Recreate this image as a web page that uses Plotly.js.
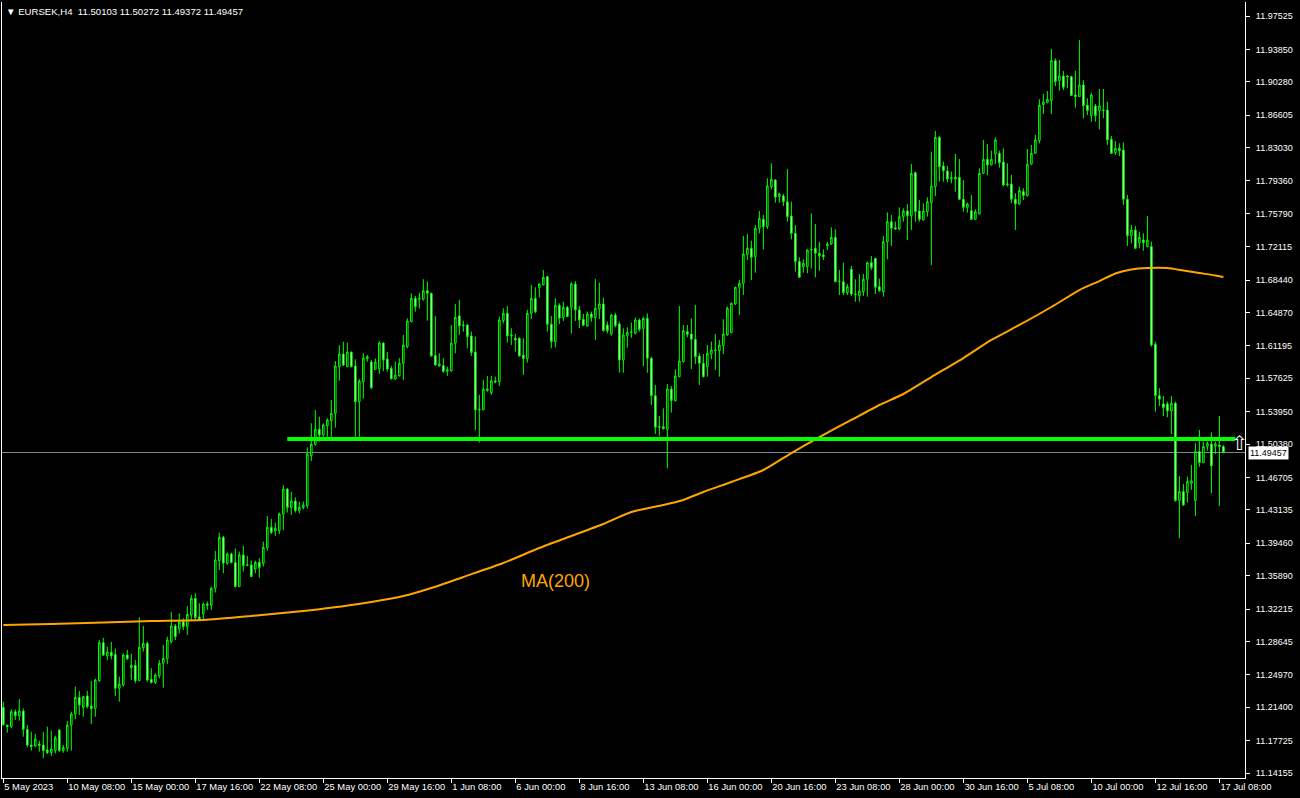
<!DOCTYPE html>
<html><head><meta charset="utf-8">
<script src="https://cdn.plot.ly/plotly-3.0.1.min.js"></script>
<style>html,body{margin:0;padding:0;background:#000;} #chart{width:1300px;height:798px;}</style>
</head><body><div id="chart"></div>
<script>
const symbolTitle = 'EURSEK,H4';
const lastOHLC = [11.50103, 11.50272, 11.49372, 11.49457];

const open = [
11.2139,11.1945,11.1926,11.2091,11.2047,11.2099,11.1897,11.1724,11.1713,11.1735,
11.1724,11.1669,11.1640,11.1662,11.1890,11.1662,11.1688,11.1945,11.2066,11.2249,
11.2139,11.2264,11.2154,11.2128,11.2433,11.2851,11.2705,11.2745,11.2723,11.2349,
11.2385,11.2716,11.2576,11.2602,11.2433,11.2796,11.2844,11.2448,11.2411,11.2488,
11.2624,11.2675,11.2862,11.3035,11.3002,11.3083,11.3028,11.3156,11.3340,11.3134,
11.3167,11.3278,11.3263,11.3451,11.3755,11.4012,11.3726,11.3829,11.3733,11.3469,
11.3818,11.3700,11.3708,11.3663,11.3737,11.3726,11.3898,11.4122,11.4082,11.4086,
11.4265,11.4544,11.4339,11.4412,11.4306,11.4339,11.4357,11.4911,11.5036,11.5201,
11.5139,11.5241,11.5296,11.5377,11.5891,11.6030,11.5891,11.6052,11.5898,11.5505,
11.5726,11.5979,11.5942,11.5861,11.5869,11.6151,11.5975,11.5872,11.5755,11.5792,
11.5928,11.6112,11.6387,11.6644,11.6633,11.6633,11.6728,11.6699,11.6013,11.5899,
11.5903,11.5840,11.5844,11.6149,11.6450,11.6343,11.6350,11.6229,11.6053,11.5415,
11.5415,11.5627,11.5605,11.5734,11.5727,11.6398,11.6479,11.6229,11.6204,11.6204,
11.6016,11.5980,11.6479,11.6644,11.6761,11.6791,11.6882,11.6358,11.6167,11.6567,
11.6431,11.6545,11.6545,11.6802,11.6516,11.6412,11.6339,11.6471,11.6431,11.6527,
11.6582,11.6350,11.6251,11.6460,11.6361,11.5964,11.6232,11.6269,11.6258,11.6405,
11.6313,11.6423,11.5983,11.5572,11.5223,11.5230,11.5201,11.5645,11.5517,11.5781,
11.5946,11.6276,11.6251,11.6192,11.6008,11.5928,11.5892,11.6031,11.6075,11.6068,
11.6123,11.6240,11.6266,11.6581,11.6765,11.6809,11.7128,11.7194,11.7103,11.7415,
11.7514,11.7433,11.7873,11.7947,11.7763,11.7771,11.7708,11.7550,11.7360,11.7048,
11.6992,11.6992,11.7176,11.7194,11.7139,11.7121,11.7223,11.7242,11.7315,11.6827,
11.6827,11.6706,11.6963,11.6691,11.6673,11.6717,11.6853,11.7036,11.7084,11.6772,
11.6717,11.7267,11.7488,11.7422,11.7407,11.7543,11.7605,11.7554,11.8027,11.7605,
11.7506,11.7598,11.7697,11.7873,11.8416,11.8101,11.8045,11.7957,11.7976,11.7976,
11.7734,11.7645,11.7609,11.7513,11.7572,11.8020,11.8174,11.8112,11.8233,11.8240,
11.8145,11.7892,11.7903,11.7735,11.7683,11.7819,11.7775,11.8120,11.8241,11.8381,
11.8777,11.8799,11.8821,11.9261,11.9041,11.9093,11.9093,11.9085,11.8883,11.8865,
11.8993,11.8770,11.8656,11.8762,11.8711,11.8718,11.8718,11.8394,11.8247,11.8295,
11.8277,11.7734,11.7334,11.7396,11.7257,11.7286,11.7213,11.7213,11.6137,11.5572,
11.5480,11.5480,11.5403,11.5488,11.4416,11.4515,11.4504,11.4607,11.4416,11.4956,
11.4834,11.5011,11.5040,11.5018,11.5029,11.50103
];
const high = [
11.2202,11.1945,11.2117,11.2117,11.2231,11.2128,11.1945,11.1871,11.1846,11.1772,
11.1867,11.1926,11.1882,11.1827,11.1897,11.1724,11.1989,11.2091,11.2367,11.2319,
11.2264,11.2319,11.2429,11.2455,11.2880,11.2906,11.2807,11.2859,11.2789,11.2477,
11.2734,11.2771,11.2727,11.2661,11.3130,11.3035,11.2862,11.2569,11.2514,11.2661,
11.2826,11.2917,11.3189,11.3057,11.3174,11.3119,11.3255,11.3376,11.3395,11.3285,
11.3292,11.3304,11.3469,11.3862,11.4064,11.4027,11.3843,11.3843,11.3891,11.3854,
11.3917,11.3807,11.3755,11.3755,11.3781,11.3964,11.4247,11.4214,11.4174,11.4284,
11.4588,11.4552,11.4511,11.4453,11.4405,11.4405,11.5003,11.5267,11.5414,11.5340,
11.5267,11.5322,11.5524,11.5953,11.6129,11.6166,11.6155,11.6056,11.5972,11.5755,
11.6038,11.6019,11.5964,11.5983,11.6173,11.6159,11.6052,11.5898,11.5946,11.5986,
11.6239,11.6424,11.6699,11.6670,11.6706,11.6853,11.6828,11.6706,11.6450,11.6039,
11.5983,11.5892,11.6350,11.6582,11.6626,11.6398,11.6354,11.6277,11.6222,11.5580,
11.5745,11.5789,11.5789,11.5782,11.6442,11.6534,11.6560,11.6314,11.6251,11.6215,
11.6204,11.6516,11.6791,11.6765,11.6806,11.6956,11.6890,11.6449,11.6644,11.6589,
11.6607,11.6560,11.6824,11.6835,11.6560,11.6471,11.6497,11.6497,11.6857,11.6816,
11.6651,11.6386,11.6471,11.6485,11.6386,11.6313,11.6324,11.6375,11.6434,11.6423,
11.6441,11.6478,11.6001,11.5689,11.5348,11.5432,11.5700,11.5678,11.5862,11.6559,
11.6350,11.6350,11.6423,11.6570,11.6038,11.6030,11.6130,11.6167,11.6251,11.6185,
11.6413,11.6552,11.6596,11.6772,11.6846,11.7330,11.7352,11.7279,11.7451,11.7605,
11.7561,11.7965,11.8130,11.7954,11.7807,11.7793,11.8068,11.7708,11.7451,11.7095,
11.7073,11.7183,11.7579,11.7462,11.7267,11.7183,11.7267,11.7425,11.7403,11.6956,
11.7036,11.6801,11.6999,11.6853,11.6911,11.6911,11.7047,11.7110,11.7091,11.6860,
11.7330,11.7590,11.7561,11.7488,11.7645,11.7634,11.7682,11.8123,11.8038,11.7726,
11.7690,11.7756,11.8258,11.8486,11.8431,11.8148,11.8101,11.8038,11.8233,11.8178,
11.7946,11.7697,11.7781,11.7623,11.8075,11.8387,11.8343,11.8269,11.8416,11.8269,
11.8295,11.8131,11.8003,11.7801,11.7874,11.7856,11.8289,11.8333,11.8443,11.8836,
11.8894,11.8927,11.9390,11.9287,11.9269,11.9148,11.9104,11.9093,11.9148,11.9489,
11.9049,11.8847,11.8909,11.8784,11.8949,11.8949,11.8810,11.8431,11.8376,11.8350,
11.8361,11.7781,11.7451,11.7440,11.7378,11.7359,11.7550,11.7268,11.6167,11.5653,
11.5568,11.5506,11.5568,11.5506,11.4688,11.4600,11.4680,11.4809,11.5047,11.5194,
11.5066,11.5066,11.5168,11.5066,11.5348,11.50272
];
const low = [
11.1945,11.1860,11.1908,11.2000,11.1992,11.1816,11.1699,11.1662,11.1699,11.1651,
11.1578,11.1625,11.1603,11.1633,11.1651,11.1640,11.1651,11.1662,11.2007,11.2055,
11.2036,11.2128,11.1956,11.2036,11.2422,11.2704,11.2661,11.2668,11.2264,11.2202,
11.2367,11.2661,11.2440,11.2404,11.2433,11.2752,11.2422,11.2404,11.2396,11.2459,
11.2356,11.2617,11.2844,11.2881,11.2954,11.2991,11.2936,11.3101,11.3101,11.3101,
11.3101,11.3212,11.3212,11.3403,11.3652,11.3616,11.3708,11.3726,11.3458,11.3469,
11.3634,11.3700,11.3579,11.3616,11.3568,11.3689,11.3865,11.4049,11.4027,11.4049,
11.4093,11.4284,11.4258,11.4284,11.4276,11.4320,11.4330,11.4852,11.5021,11.5065,
11.5120,11.5120,11.5120,11.5219,11.5737,11.5898,11.5891,11.5883,11.5120,11.5120,
11.5539,11.5946,11.5645,11.5854,11.5810,11.5843,11.5836,11.5755,11.5744,11.5781,
11.5744,11.6094,11.6376,11.6497,11.6534,11.6618,11.6398,11.6002,11.5903,11.5892,
11.5826,11.5789,11.5837,11.6039,11.6240,11.6277,11.6094,11.6009,11.5194,11.5055,
11.5410,11.5616,11.5580,11.5708,11.5679,11.6369,11.6156,11.6130,11.6057,11.6002,
11.5800,11.5936,11.6416,11.6479,11.6651,11.6787,11.6277,11.6093,11.6101,11.6361,
11.6394,11.6438,11.6259,11.6394,11.6314,11.6339,11.6332,11.6387,11.6185,11.6416,
11.6277,11.6258,11.6232,11.6324,11.5825,11.5825,11.6100,11.6210,11.6247,11.6276,
11.5898,11.5825,11.5469,11.5150,11.5131,11.5201,11.4772,11.5385,11.5506,11.5773,
11.5935,11.6214,11.5865,11.5920,11.5689,11.5773,11.5781,11.5972,11.5855,11.5781,
11.6031,11.6233,11.6259,11.6570,11.6460,11.6681,11.7066,11.6846,11.6926,11.7360,
11.7183,11.7407,11.7844,11.7697,11.7697,11.7660,11.7488,11.7293,11.6937,11.6871,
11.6926,11.6919,11.6974,11.6875,11.6948,11.7066,11.7176,11.7231,11.6820,11.6680,
11.6680,11.6680,11.6669,11.6607,11.6607,11.6669,11.6662,11.6956,11.6691,11.6717,
11.6662,11.7073,11.7220,11.7396,11.7396,11.7488,11.7286,11.7396,11.7488,11.7488,
11.7502,11.7543,11.7011,11.7770,11.7928,11.7928,11.7921,11.7910,11.7818,11.7726,
11.7598,11.7587,11.7506,11.7506,11.7568,11.8016,11.8001,11.8108,11.8123,11.8082,
11.7880,11.7874,11.7691,11.7397,11.7672,11.7727,11.7764,11.8113,11.8234,11.8351,
11.8674,11.8792,11.8674,11.8982,11.8931,11.8938,11.8957,11.8872,11.8744,11.8861,
11.8626,11.8663,11.8590,11.8590,11.8505,11.8626,11.8333,11.8233,11.8222,11.8211,
11.7671,11.7220,11.7249,11.7187,11.7194,11.7168,11.7205,11.6112,11.5396,11.5458,
11.5348,11.5334,11.5150,11.4405,11.4001,11.4357,11.4394,11.4534,11.4247,11.4790,
11.4830,11.4967,11.4497,11.4930,11.4357,11.49372
];
const close = [
11.1945,11.1926,11.2091,11.2047,11.2099,11.1897,11.1724,11.1706,11.1790,11.1721,
11.1662,11.1640,11.1680,11.1805,11.1662,11.1695,11.1945,11.2066,11.2249,11.2165,
11.2257,11.2147,11.2124,11.2440,11.2851,11.2715,11.2749,11.2705,11.2349,11.2393,
11.2716,11.2675,11.2602,11.2433,11.2800,11.2844,11.2440,11.2411,11.2495,11.2624,
11.2679,11.2881,11.3035,11.2917,11.3079,11.3028,11.3163,11.3340,11.3127,11.3101,
11.3277,11.3263,11.3451,11.3763,11.4012,11.3726,11.3829,11.3733,11.3469,11.3818,
11.3700,11.3708,11.3579,11.3737,11.3678,11.3902,11.4122,11.4064,11.4111,11.4269,
11.4544,11.4339,11.4412,11.4306,11.4342,11.4368,11.4929,11.5036,11.5201,11.5139,
11.5249,11.5304,11.5377,11.5898,11.6030,11.5909,11.6052,11.5891,11.5505,11.5733,
11.5986,11.6001,11.5660,11.5942,11.6151,11.5964,11.5865,11.5755,11.5799,11.5928,
11.6129,11.6394,11.6644,11.6552,11.6644,11.6728,11.6699,11.6009,11.5910,11.5921,
11.5837,11.5855,11.6149,11.6435,11.6339,11.6350,11.6222,11.6046,11.5415,11.5422,
11.5642,11.5646,11.5734,11.5723,11.6405,11.6479,11.6229,11.6240,11.6185,11.6009,
11.5980,11.6479,11.6644,11.6497,11.6802,11.6875,11.6358,11.6167,11.6567,11.6424,
11.6545,11.6442,11.6802,11.6516,11.6405,11.6347,11.6471,11.6431,11.6534,11.6582,
11.6288,11.6287,11.6460,11.6342,11.5964,11.6240,11.6269,11.6273,11.6405,11.6302,
11.6423,11.5983,11.5572,11.5223,11.5230,11.5208,11.5645,11.5517,11.5788,11.5953,
11.6287,11.6247,11.6192,11.6001,11.5928,11.5781,11.6038,11.6075,11.6068,11.6130,
11.6251,11.6534,11.6589,11.6765,11.6809,11.7132,11.7194,11.7095,11.7415,11.7525,
11.7433,11.7881,11.7954,11.7756,11.7793,11.7708,11.7543,11.7360,11.7048,11.6875,
11.7029,11.7176,11.7183,11.7139,11.7113,11.7102,11.7242,11.7315,11.6827,11.6831,
11.6706,11.6772,11.6691,11.6684,11.6724,11.6853,11.7036,11.6981,11.6765,11.6728,
11.7267,11.7488,11.7414,11.7407,11.7543,11.7605,11.7554,11.8020,11.7598,11.7513,
11.7605,11.7708,11.7880,11.8416,11.8093,11.8049,11.7957,11.7972,11.7957,11.7734,
11.7645,11.7682,11.7513,11.7598,11.8020,11.8174,11.8112,11.8174,11.8387,11.8137,
11.7891,11.7903,11.7735,11.7683,11.7830,11.7775,11.8120,11.8241,11.8388,11.8770,
11.8806,11.8836,11.9261,11.9030,11.9093,11.8968,11.9085,11.8876,11.8865,11.8993,
11.8766,11.8711,11.8883,11.8656,11.8762,11.8711,11.8388,11.8240,11.8295,11.8269,
11.7734,11.7334,11.7396,11.7194,11.7315,11.7257,11.7286,11.6130,11.5572,11.5532,
11.5440,11.5403,11.5488,11.4416,11.4515,11.4369,11.4625,11.4633,11.4956,11.4834,
11.5011,11.5047,11.4798,11.5040,11.5011,11.49457
];

// bar index of each time label and its text
const xTickIdx = [0,16,32,48,64,80,96,112,128,144,160,176,192,208,224,240,256,272,288,304];
const xTickText = ['5 May 2023','10 May 08:00','15 May 00:00','17 May 16:00','22 May 08:00','25 May 00:00',
  '29 May 16:00','1 Jun 08:00','6 Jun 00:00','8 Jun 16:00','13 Jun 08:00','16 Jun 00:00','20 Jun 16:00',
  '23 Jun 08:00','28 Jun 00:00','30 Jun 16:00','5 Jul 08:00','10 Jul 00:00','12 Jul 16:00','17 Jul 08:00'];

const yTickVals = [11.97525,11.93850,11.90280,11.86605,11.83030,11.79360,11.75790,11.72115,11.68440,11.64870,
  11.61195,11.57625,11.53950,11.50380,11.46705,11.43135,11.39460,11.35890,11.32215,11.28645,11.24970,
  11.21400,11.17725,11.14155];
const yTickText = yTickVals.map(v => v.toFixed(5));

// MA(200) read at sampled bars
const maIdx = [0,12,25,37,50,62,75,87,100,107,115,125,134,142,150,157,165,170,175,182,190,197,204,212,219,225,232,240,247,254,262,269,274,278,282,286,291,295,299,303,305];
const maVal = [11.3046,11.3057,11.3073,11.3090,11.3101,11.3145,11.3200,11.3266,11.3365,11.3453,11.3575,11.3729,11.3894,11.4026,11.4158,11.4290,11.4367,11.4423,11.4511,11.4621,11.4753,11.4940,11.5116,11.5304,11.5469,11.5590,11.5777,11.5986,11.6185,11.6350,11.6548,11.6735,11.6834,11.6917,11.6961,11.6977,11.6977,11.6950,11.6922,11.6895,11.6878];

// horizontal level line
const levelPrice = 11.5094;
const levelBars = [71, 308];
const bidPrice = lastOHLC[3];

const idx = open.map((_, i) => i);
const LIME = '#00FF00';

const traces = [
  { type: 'candlestick', x: idx, open: open, high: high, low: low, close: close,
    increasing: { line: { color: LIME, width: 1 }, fillcolor: '#000000' },
    decreasing: { line: { color: LIME, width: 1 }, fillcolor: '#FFFFFF' },
    whiskerwidth: 0, hoverinfo: 'skip', showlegend: false },
  { type: 'scatter', mode: 'lines', x: maIdx, y: maVal,
    line: { color: '#FFA500', width: 2, shape: 'spline', smoothing: 0.6 }, hoverinfo: 'skip', showlegend: false },
  { type: 'scatter', mode: 'lines', x: levelBars, y: [levelPrice, levelPrice],
    line: { color: LIME, width: 4 }, hoverinfo: 'skip', showlegend: false }
];

const axFont = { family: 'Liberation Sans, Arial, sans-serif', size: 9, color: '#FFFFFF' };

const layout = {
  width: 1300, height: 798,
  paper_bgcolor: '#000000', plot_bgcolor: '#000000',
  margin: { l: 2, r: 55, t: 2, b: 20 },
  showlegend: false,
  boxgap: 0.45,
  xaxis: {
    range: [-0.325, 310.4], showgrid: false, zeroline: false,
    showline: true, linecolor: '#FFFFFF', linewidth: 1,
    tickmode: 'array', tickvals: xTickIdx, ticktext: xTickText,
    ticks: 'outside', ticklen: 4, tickcolor: '#FFFFFF', tickwidth: 1,
    ticklabelposition: 'outside right', tickangle: 0,
    tickfont: { family: 'Liberation Sans, Arial, sans-serif', size: 9.4, color: '#FFFFFF' },
    rangeslider: { visible: false }, fixedrange: true
  },
  yaxis: {
    side: 'right', range: [11.1361, 11.9907], showgrid: false, zeroline: false,
    showline: true, mirror: true, linecolor: '#FFFFFF', linewidth: 1,
    tickmode: 'array', tickvals: yTickVals, ticktext: yTickText,
    ticks: 'outside', ticklen: 4, tickcolor: '#FFFFFF', tickwidth: 1,
    ticklabelstandoff: 4,
    tickfont: axFont, fixedrange: true
  },
  shapes: [
    { type: 'line', xref: 'paper', x0: 0, x1: 1, yref: 'y', y0: bidPrice, y1: bidPrice,
      line: { color: '#778899', width: 1 }, layer: 'below' }
  ],
  annotations: [
    { xref: 'paper', yref: 'paper', x: 0, y: 1, xanchor: 'left', yanchor: 'top', xshift: 2, yshift: -2,
      showarrow: false, align: 'left',
      text: '\u25BC ' + symbolTitle + '  ' + lastOHLC.map(v => v.toFixed(5)).join(' '),
      font: { family: 'Liberation Sans, Arial, sans-serif', size: 9.6, color: '#FFFFFF' } },
    { xref: 'x', yref: 'y', x: 138, y: 11.3530, showarrow: false, text: 'MA(200)',
      font: { family: 'Liberation Sans, Arial, sans-serif', size: 18, color: '#FFA500' } },
    { xref: 'x', yref: 'y', x: 309, y: 11.5050, showarrow: false, text: '\u21E7',
      font: { family: 'DejaVu Sans, sans-serif', size: 20, color: '#FFFFFF' } },
    { xref: 'paper', yref: 'y', x: 1, y: bidPrice, xanchor: 'left', xshift: 3, showarrow: false,
      text: bidPrice.toFixed(5), bgcolor: '#FFFFFF', borderpad: 1,
      font: { family: 'Liberation Sans, Arial, sans-serif', size: 9, color: '#000000' } }
  ]
};

Plotly.newPlot('chart', traces, layout, { staticPlot: true, displayModeBar: false });
</script>
</body></html>
